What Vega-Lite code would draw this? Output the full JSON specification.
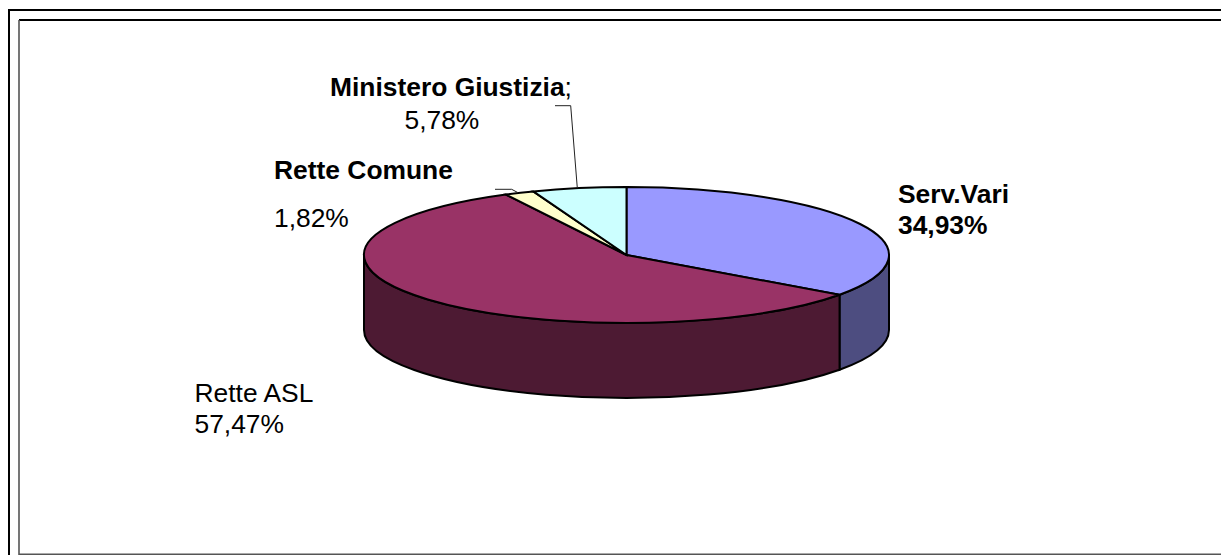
{
  "$schema": "https://vega.github.io/schema/vega-lite/v6.json",
  "width": 1221,
  "height": 555,
  "autosize": {"type": "none"},
  "padding": 0,
  "background": "white",
  "config": {"view": {"stroke": null}},
  "params": [
    {"name": "rx", "value": 262.5},
    {"name": "ry", "value": 68},
    {"name": "depth", "value": 75}
  ],
  "data": {
    "values": [
      {"category": "Serv.Vari", "share": 34.93},
      {"category": "Rette ASL", "share": 57.47},
      {"category": "Rette Comune", "share": 1.82},
      {"category": "Ministero Giustizia", "share": 5.78}
    ]
  },
  "transform": [
    {"window": [{"op": "sum", "field": "share", "as": "cum"}]},
    {"calculate": "(datum.cum - datum.share) * 2 * PI / 100", "as": "a0"},
    {"calculate": "datum.cum * 2 * PI / 100", "as": "a1"},
    {"calculate": "max(datum.a0, PI / 2)", "as": "f0"},
    {"calculate": "min(datum.a1, 3 * PI / 2)", "as": "f1"},
    {"calculate": "round(rx * sin(datum.a0) * 100) / 100", "as": "x0"},
    {"calculate": "round(-ry * cos(datum.a0) * 100) / 100", "as": "y0"},
    {"calculate": "round(rx * sin(datum.a1) * 100) / 100", "as": "x1"},
    {"calculate": "round(-ry * cos(datum.a1) * 100) / 100", "as": "y1"},
    {"calculate": "round(rx * sin(datum.f0) * 100) / 100", "as": "fx0"},
    {"calculate": "round(-ry * cos(datum.f0) * 100) / 100", "as": "fy0"},
    {"calculate": "round(rx * sin(datum.f1) * 100) / 100", "as": "fx1"},
    {"calculate": "round(-ry * cos(datum.f1) * 100) / 100", "as": "fy1"},
    {"calculate": "'M0 0 L' + datum.x0 + ' ' + datum.y0 + ' A' + rx + ' ' + ry + ' 0 ' + (datum.a1 - datum.a0 > PI ? 1 : 0) + ' 1 ' + datum.x1 + ' ' + datum.y1 + ' Z'", "as": "topPath"},
    {"calculate": "'M' + datum.fx0 + ' ' + datum.fy0 + ' A' + rx + ' ' + ry + ' 0 0 1 ' + datum.fx1 + ' ' + datum.fy1 + ' L' + datum.fx1 + ' ' + (datum.fy1 + depth) + ' A' + rx + ' ' + ry + ' 0 0 0 ' + datum.fx0 + ' ' + (datum.fy0 + depth) + ' Z'", "as": "sidePath"},
    {"calculate": "replace(format(datum.share, '.2f'), '.', ',') + '%'", "as": "pct"}
  ],
  "encoding": {
    "x": {"datum": 0, "type": "quantitative", "axis": null, "scale": {"domain": [-626.5, 594.5], "nice": false, "zero": false}},
    "y": {"datum": 0, "type": "quantitative", "axis": null, "scale": {"domain": [-300, 255], "nice": false, "zero": false}}
  },
  "layer": [
    {
      "description": "outer frame",
      "data": {"values": [{"part": "outer"}]},
      "transform": [],
      "mark": {"type": "point", "filled": false, "size": 4, "stroke": "#000000", "strokeWidth": 2, "opacity": 1, "shape": "M594.5 -245 L-617.5 -245 L-617.5 300"}
    },
    {
      "description": "inner frame",
      "data": {"values": [{"part": "inner"}]},
      "transform": [],
      "mark": {"type": "point", "filled": false, "size": 4, "stroke": "#000000", "strokeWidth": 2, "opacity": 1, "shape": "M594.5 -235 L-607.5 -235"}
    },
    {
      "description": "inner frame, left and bottom edges",
      "data": {"values": [{"part": "inner edge"}]},
      "transform": [],
      "mark": {"type": "point", "filled": false, "size": 4, "stroke": "#555555", "strokeWidth": 1.6, "opacity": 1, "shape": "M-607.5 -235 L-607.5 299.3 L594.5 299.3"}
    },
    {
      "description": "pie wall, visible along the front half only",
      "transform": [{"filter": "datum.f1 > datum.f0"}],
      "mark": {"type": "point", "filled": true, "size": 4, "stroke": "#000000", "strokeWidth": 2, "opacity": 1},
      "encoding": {
        "shape": {"field": "sidePath", "type": "nominal", "scale": null, "legend": null},
        "fill": {"field": "category", "type": "nominal", "legend": null, "scale": {"domain": ["Serv.Vari", "Rette ASL"], "range": ["#4D4D80", "#4D1A33"]}}
      }
    },
    {
      "description": "pie top",
      "mark": {"type": "point", "filled": true, "size": 4, "stroke": "#000000", "strokeWidth": 2, "opacity": 1},
      "encoding": {
        "shape": {"field": "topPath", "type": "nominal", "scale": null, "legend": null},
        "fill": {"field": "category", "type": "nominal", "legend": null, "scale": {"domain": ["Serv.Vari", "Rette ASL", "Rette Comune", "Ministero Giustizia"], "range": ["#9999FF", "#993366", "#FFFFCC", "#CCFFFF"]}}
      }
    },
    {
      "description": "leader line for Ministero Giustizia",
      "transform": [{"filter": "datum.category === 'Ministero Giustizia'"}],
      "mark": {"type": "point", "filled": false, "size": 4, "stroke": "#222222", "strokeWidth": 1, "opacity": 1, "shape": "M-71.5 -149.3 L-55.8 -149.3 L-49.2 -67"}
    },
    {
      "description": "leader line for Rette Comune",
      "transform": [{"filter": "datum.category === 'Rette Comune'"}],
      "mark": {"type": "point", "filled": false, "size": 4, "stroke": "#222222", "strokeWidth": 1, "opacity": 1, "shape": "M-131.5 -65.7 L-114.8 -65.7 L-108.5 -62.3"}
    },
    {
      "transform": [{"filter": "datum.category === 'Ministero Giustizia'"}],
      "mark": {"type": "text", "align": "left", "baseline": "alphabetic", "font": "Liberation Sans", "fontSize": 26.4, "fontWeight": "bold", "color": "#000000", "dx": -296.5, "dy": -159},
      "encoding": {"text": {"field": "category"}}
    },
    {
      "transform": [{"filter": "datum.category === 'Ministero Giustizia'"}],
      "mark": {"type": "text", "align": "left", "baseline": "alphabetic", "font": "Liberation Sans", "fontSize": 26.4, "color": "#000000", "dx": -62, "dy": -159, "text": ";"}
    },
    {
      "transform": [{"filter": "datum.category === 'Ministero Giustizia'"}],
      "mark": {"type": "text", "align": "left", "baseline": "alphabetic", "font": "Liberation Sans", "fontSize": 26.4, "color": "#000000", "dx": -222, "dy": -126},
      "encoding": {"text": {"field": "pct"}}
    },
    {
      "transform": [{"filter": "datum.category === 'Rette Comune'"}],
      "mark": {"type": "text", "align": "left", "baseline": "alphabetic", "font": "Liberation Sans", "fontSize": 26.4, "fontWeight": "bold", "color": "#000000", "dx": -352.5, "dy": -76},
      "encoding": {"text": {"field": "category"}}
    },
    {
      "transform": [{"filter": "datum.category === 'Rette Comune'"}],
      "mark": {"type": "text", "align": "left", "baseline": "alphabetic", "font": "Liberation Sans", "fontSize": 26.4, "color": "#000000", "dx": -352.5, "dy": -28},
      "encoding": {"text": {"field": "pct"}}
    },
    {
      "transform": [{"filter": "datum.category === 'Serv.Vari'"}],
      "mark": {"type": "text", "align": "left", "baseline": "alphabetic", "font": "Liberation Sans", "fontSize": 26.4, "fontWeight": "bold", "color": "#000000", "dx": 271.5, "dy": -52},
      "encoding": {"text": {"field": "category"}}
    },
    {
      "transform": [{"filter": "datum.category === 'Serv.Vari'"}],
      "mark": {"type": "text", "align": "left", "baseline": "alphabetic", "font": "Liberation Sans", "fontSize": 26.4, "fontWeight": "bold", "color": "#000000", "dx": 271.5, "dy": -21},
      "encoding": {"text": {"field": "pct"}}
    },
    {
      "transform": [{"filter": "datum.category === 'Rette ASL'"}],
      "mark": {"type": "text", "align": "left", "baseline": "alphabetic", "font": "Liberation Sans", "fontSize": 26.4, "color": "#000000", "dx": -432, "dy": 147},
      "encoding": {"text": {"field": "category"}}
    },
    {
      "transform": [{"filter": "datum.category === 'Rette ASL'"}],
      "mark": {"type": "text", "align": "left", "baseline": "alphabetic", "font": "Liberation Sans", "fontSize": 26.4, "color": "#000000", "dx": -432, "dy": 178},
      "encoding": {"text": {"field": "pct"}}
    }
  ],
  "resolve": {"scale": {"fill": "independent"}}
}
